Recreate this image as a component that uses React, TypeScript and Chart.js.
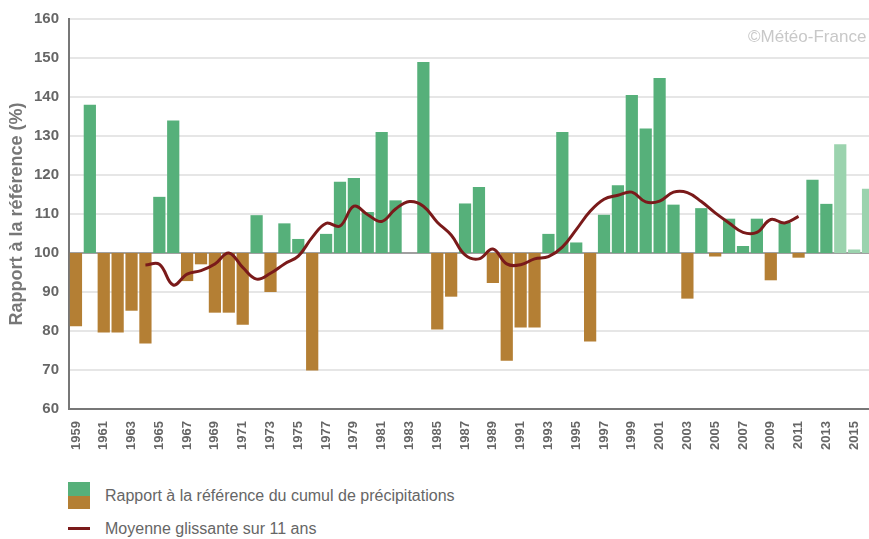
import React, { useEffect, useRef } from "react";
import { Chart, registerables } from "chart.js";

Chart.register(...registerables);

// ---- Data ----
const years = [
  "1959", "1960", "1961", "1962", "1963", "1964", "1965", "1966", "1967", "1968",
  "1969", "1970", "1971", "1972", "1973", "1974", "1975", "1976", "1977", "1978",
  "1979", "1980", "1981", "1982", "1983", "1984", "1985", "1986", "1987", "1988",
  "1989", "1990", "1991", "1992", "1993", "1994", "1995", "1996", "1997", "1998",
  "1999", "2000", "2001", "2002", "2003", "2004", "2005", "2006", "2007", "2008",
  "2009", "2010", "2011", "2012", "2013", "2014", "2015", "2016",
];

// Rapport à la référence du cumul de précipitations (%)
const ratios = [
  81.2, 138.0, 79.6, 79.6, 85.2, 76.8, 114.4, 134.0, 92.8, 97.1,
  84.7, 84.7, 81.6, 109.7, 90.0, 107.6, 103.6, 69.9, 104.9, 118.3,
  119.2, 110.5, 131.0, 113.5, 100.0, 149.0, 80.4, 88.8, 112.7, 116.9,
  92.3, 72.4, 80.9, 80.9, 104.9, 131.0, 102.7, 77.3, 109.8, 117.4,
  140.5, 131.9, 144.9, 112.4, 88.3, 111.5, 99.1, 108.8, 101.8, 108.8,
  93.0, 107.7, 98.8, 118.8, 112.6, 127.9, 100.9, 116.5,
];

// Provisional years drawn in a lighter green
const provisionalYears = ["2014", "2015", "2016"];

// Moyenne glissante sur 11 ans, from 1964 to 2011
const movingAvgStart = "1964";
const movingAvg = [
  96.9, 97.1, 91.8, 94.6, 95.5, 97.2, 100.0, 96.3, 93.3, 94.8,
  97.2, 99.2, 104.0, 107.6, 106.9, 112.0, 109.8, 108.1, 111.3, 113.2,
  112.0, 107.9, 104.6, 99.5, 98.5, 101.0, 97.2, 97.0, 98.5, 99.1,
  101.5, 106.0, 110.7, 113.8, 114.8, 115.6, 113.1, 113.3, 115.6, 115.5,
  113.2, 110.3, 107.7, 105.3, 105.3, 108.6, 107.7, 109.4,
];

const yTicks = { min: 60, max: 160, step: 10 };
const baseline = 100;

const GREEN = "#56b07a";
const LIGHT = "#9bd3ae";
const BROWN = "#b47f34";
const LINE = "#7a1a1a";
const FONT = "'Liberation Sans', Arial, sans-serif";

export default function App() {
  const ref = useRef<HTMLCanvasElement>(null);

  useEffect(() => {
    const canvas = ref.current;
    if (!canvas) return;
    Chart.defaults.font.family = FONT;

    const startIdx = years.indexOf(movingAvgStart);
    const avgData = years.map((_, i) =>
      i >= startIdx && i - startIdx < movingAvg.length ? movingAvg[i - startIdx] : null
    );
    const barColors = ratios.map((v, i) =>
      v < baseline ? BROWN : provisionalYears.includes(years[i]) ? LIGHT : GREEN
    );

    const chart = new Chart(canvas, {
      data: {
        labels: years,
        datasets: [
          {
            type: "line",
            label: "Moyenne glissante sur 11 ans",
            data: avgData as any,
            borderColor: LINE,
            borderWidth: 3,
            pointRadius: 0,
            tension: 0.4,
            spanGaps: false,
            order: 0,
          },
          {
            type: "bar",
            label: "Rapport à la référence du cumul de précipitations",
            data: ratios.map((v) => [baseline, v]) as any,
            backgroundColor: barColors,
            borderWidth: 0,
            barPercentage: 0.88,
            categoryPercentage: 1,
            order: 1,
          },
        ],
      },
      options: {
        responsive: false,
        animation: false,
        layout: { padding: { top: 19, right: 5, left: 0, bottom: 0 } },
        plugins: { legend: { display: false }, tooltip: { enabled: false } },
        scales: {
          x: {
            grid: { display: false },
            border: { display: true, color: "#777", width: 2 },
            ticks: {
              autoSkip: false,
              maxRotation: 90,
              minRotation: 90,
              padding: 4,
              color: "#666",
              font: { weight: "bold", size: 13 },
              callback: (_v: any, i: number) => (i % 2 === 0 ? years[i] : ""),
            },
            afterFit: (s: any) => {
              s.height = 41;
              s.paddingLeft = 0;
              s.paddingRight = 0;
            },
          },
          y: {
            min: yTicks.min,
            max: yTicks.max,
            ticks: {
              stepSize: yTicks.step,
              color: "#666",
              font: { weight: "bold", size: 15 },
              padding: 10,
            },
            grid: {
              color: (c: any) =>
                c.tick && c.tick.value === baseline ? "#a0a0a0" : "#e6e6e6",
              lineWidth: 2,
              drawTicks: false,
            },
            border: { display: true, color: "#777", width: 2 },
            title: {
              display: true,
              text: "Rapport à la référence (%)",
              color: "#777",
              font: { weight: "bold", size: 18 },
              padding: { top: 6, bottom: 0 },
            },
            afterFit: (s: any) => {
              s.width = 69;
              s.paddingTop = 0;
              s.paddingBottom = 0;
            },
          },
        },
      },
    } as any);

    return () => chart.destroy();
  }, []);

  return (
    <div
      style={{
        position: "absolute",
        left: 0,
        top: 0,
        width: 869,
        height: 539,
        overflow: "hidden",
        background: "#fff",
        fontFamily: FONT,
      }}
    >
      <canvas
        ref={ref}
        width={880}
        height={450}
        style={{ position: "absolute", left: 0, top: 0, width: 880, height: 450 }}
      />
      <div
        style={{
          position: "absolute",
          left: 748,
          top: 27,
          fontSize: 17,
          color: "#c8c8c8",
          whiteSpace: "nowrap",
        }}
      >
        ©Météo-France
      </div>
      <div style={{ position: "absolute", left: 68, top: 482, width: 22, height: 27 }}>
        <div style={{ height: 13.5, background: GREEN }} />
        <div style={{ height: 13.5, background: BROWN }} />
      </div>
      <div
        style={{
          position: "absolute",
          left: 105,
          top: 486,
          fontSize: 16,
          lineHeight: "20px",
          color: "#666",
          whiteSpace: "nowrap",
        }}
      >
        Rapport à la référence du cumul de précipitations
      </div>
      <div
        style={{ position: "absolute", left: 68, top: 527, width: 22, height: 3, background: LINE }}
      />
      <div
        style={{
          position: "absolute",
          left: 105,
          top: 519,
          fontSize: 16,
          lineHeight: "20px",
          color: "#666",
          whiteSpace: "nowrap",
        }}
      >
        Moyenne glissante sur 11 ans
      </div>
    </div>
  );
}
